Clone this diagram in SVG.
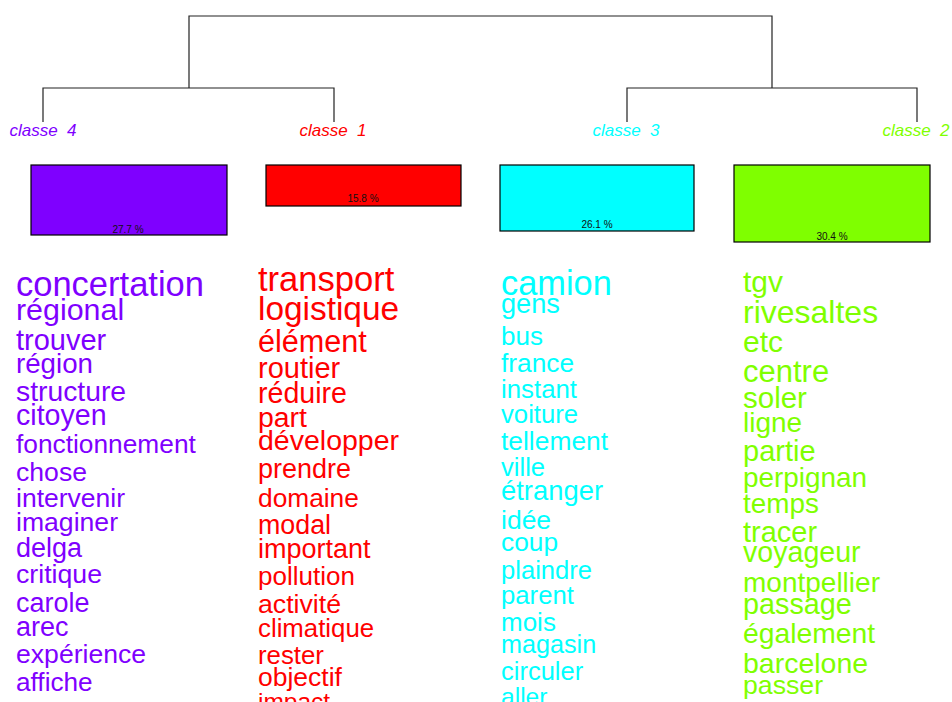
<svg xmlns="http://www.w3.org/2000/svg" width="952" height="702" viewBox="0 0 952 702">
<style>
text{font-family:"Liberation Sans",Arial,sans-serif}
.lbl{font-size:17px;font-style:italic;text-anchor:middle;white-space:pre}
.pct{font-size:10px;text-anchor:middle;fill:#111}
.box{stroke:#000;stroke-width:1.2}
.tree{fill:none;stroke:#222;stroke-width:1.2}
.c4{fill:#7F00FF}.c1{fill:#FF0000}.c3{fill:#00FFFF}.c2{fill:#7FFF00}
</style>
<rect width="952" height="702" fill="#fff"/>
<g id="connectors" class="tree">
<path d="M189,88 V16 H772 V88"/>
<path d="M43,122 V88 H334 V122"/>
<path d="M627,122 V88 H917 V122"/>
</g>
<g id="classe4">
<text class="lbl c4" x="43" y="136" xml:space="preserve">classe  4</text>
<rect class="box c4" x="31" y="165" width="196" height="70"/>
<text class="pct" x="128" y="233">27.7 %</text>
<g class="c4">
<text x="16" y="296" font-size="34.5">concertation</text>
<text x="16" y="320" font-size="30.4">régional</text>
<text x="16" y="350" font-size="29">trouver</text>
<text x="16" y="373" font-size="27.7">région</text>
<text x="16" y="401" font-size="28.3">structure</text>
<text x="16" y="425" font-size="28.6">citoyen</text>
<text x="16" y="453" font-size="26.3">fonctionnement</text>
<text x="16" y="481" font-size="26.6">chose</text>
<text x="16" y="507" font-size="26.5">intervenir</text>
<text x="16" y="531" font-size="26.6">imaginer</text>
<text x="16" y="557" font-size="27">delga</text>
<text x="16" y="583" font-size="26.7">critique</text>
<text x="16" y="612" font-size="27">carole</text>
<text x="16" y="636" font-size="27">arec</text>
<text x="16" y="663" font-size="26.6">expérience</text>
<text x="16" y="691" font-size="26.2">affiche</text>
</g>
</g>
<g id="classe1">
<text class="lbl c1" x="333" y="136" xml:space="preserve">classe  1</text>
<rect class="box c1" x="266" y="165" width="195" height="41"/>
<text class="pct" x="363" y="202">15.8 %</text>
<g class="c1">
<text x="258" y="291" font-size="34.6">transport</text>
<text x="258" y="320" font-size="33.4">logistique</text>
<text x="258" y="352" font-size="30.6">élément</text>
<text x="258" y="378" font-size="29">routier</text>
<text x="258" y="403" font-size="28.6">réduire</text>
<text x="258" y="427" font-size="28.4">part</text>
<text x="258" y="450" font-size="28.5">développer</text>
<text x="258" y="478" font-size="27">prendre</text>
<text x="258" y="507" font-size="26.3">domaine</text>
<text x="258" y="534" font-size="26.8">modal</text>
<text x="258" y="558" font-size="27">important</text>
<text x="258" y="585" font-size="26">pollution</text>
<text x="258" y="613" font-size="26.7">activité</text>
<text x="258" y="637" font-size="25.8">climatique</text>
<text x="258" y="664" font-size="25.8">rester</text>
<text x="258" y="686" font-size="26.5">objectif</text>
<text x="258" y="710" font-size="24.5">impact</text>
</g>
</g>
<g id="classe3">
<text class="lbl c3" x="626" y="136" xml:space="preserve">classe  3</text>
<rect class="box c3" x="500" y="165" width="194" height="66"/>
<text class="pct" x="597" y="228">26.1 %</text>
<g class="c3">
<text x="501" y="295" font-size="34.4">camion</text>
<text x="501" y="313" font-size="27.2">gens</text>
<text x="501" y="345" font-size="26">bus</text>
<text x="501" y="372" font-size="26.3">france</text>
<text x="501" y="398" font-size="25.8">instant</text>
<text x="501" y="423" font-size="25.7">voiture</text>
<text x="501" y="450" font-size="26.4">tellement</text>
<text x="501" y="476" font-size="25.6">ville</text>
<text x="501" y="500" font-size="27.4">étranger</text>
<text x="501" y="529" font-size="26.5">idée</text>
<text x="501" y="551" font-size="26.3">coup</text>
<text x="501" y="579" font-size="25.6">plaindre</text>
<text x="501" y="604" font-size="25.7">parent</text>
<text x="501" y="631" font-size="26">mois</text>
<text x="501" y="653" font-size="25.2">magasin</text>
<text x="501" y="680" font-size="25.5">circuler</text>
<text x="501" y="705" font-size="24.6">aller</text>
</g>
</g>
<g id="classe2">
<text class="lbl c2" x="916" y="136" xml:space="preserve">classe  2</text>
<rect class="box c2" x="734" y="165" width="196" height="77"/>
<text class="pct" x="832" y="240">30.4 %</text>
<g class="c2">
<text x="743" y="292" font-size="30">tgv</text>
<text x="743" y="323" font-size="32">rivesaltes</text>
<text x="743" y="352" font-size="30">etc</text>
<text x="743" y="382" font-size="31">centre</text>
<text x="743" y="408" font-size="29.5">soler</text>
<text x="743" y="432" font-size="28">ligne</text>
<text x="743" y="461" font-size="29">partie</text>
<text x="743" y="487" font-size="27.9">perpignan</text>
<text x="743" y="513" font-size="27.9">temps</text>
<text x="743" y="542" font-size="29">tracer</text>
<text x="743" y="562" font-size="28.6">voyageur</text>
<text x="743" y="592" font-size="28">montpellier</text>
<text x="743" y="614" font-size="28.8">passage</text>
<text x="743" y="643" font-size="28.3">également</text>
<text x="743" y="673" font-size="28.5">barcelone</text>
<text x="743" y="694" font-size="26.7">passer</text>
</g>
</g>
</svg>
